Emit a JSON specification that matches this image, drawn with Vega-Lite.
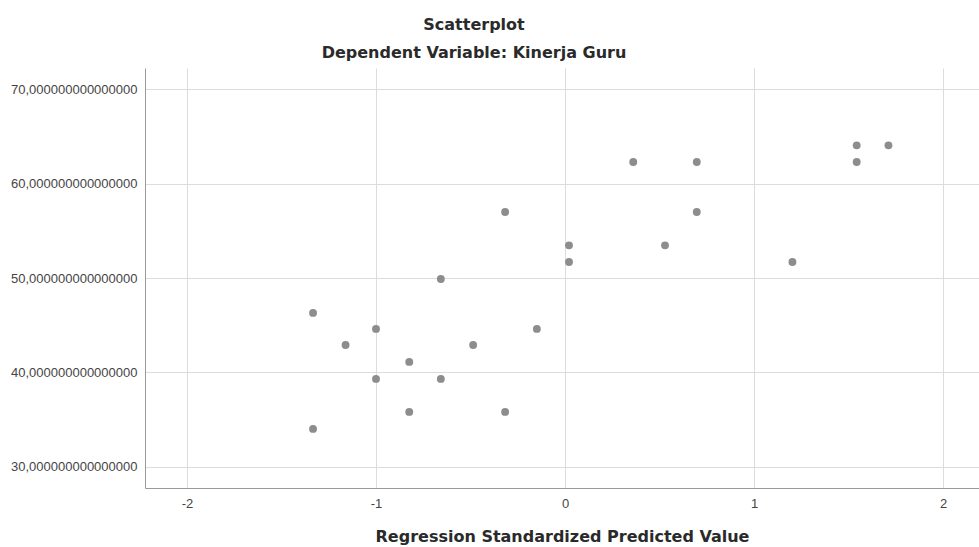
{
  "$schema": "https://vega.github.io/schema/vega-lite/v6.json",
  "autosize": "none",
  "width": 834,
  "height": 420,
  "padding": {"left": 145, "top": 68, "right": 0, "bottom": 59},
  "background": "white",
  "title": {
    "text": "Scatterplot",
    "subtitle": "Dependent Variable: Kinerja Guru",
    "anchor": "middle",
    "dx": -88,
    "offset": 7,
    "font": "DejaVu Sans",
    "fontSize": 16,
    "fontWeight": "bold",
    "color": "#2a2a2a",
    "subtitleFont": "DejaVu Sans",
    "subtitleFontSize": 16,
    "subtitleFontWeight": "bold",
    "subtitleColor": "#2a2a2a",
    "subtitlePadding": 12
  },
  "data": {
    "values": [
      {"pred": -1.333, "kinerja": 34.0},
      {"pred": -1.333, "kinerja": 46.3},
      {"pred": -1.161, "kinerja": 42.9},
      {"pred": -1.0, "kinerja": 44.6},
      {"pred": -1.0, "kinerja": 39.3},
      {"pred": -0.824, "kinerja": 41.1},
      {"pred": -0.824, "kinerja": 35.8},
      {"pred": -0.657, "kinerja": 49.9},
      {"pred": -0.657, "kinerja": 39.3},
      {"pred": -0.486, "kinerja": 42.9},
      {"pred": -0.317, "kinerja": 57.0},
      {"pred": -0.317, "kinerja": 35.8},
      {"pred": -0.149, "kinerja": 44.6},
      {"pred": 0.021, "kinerja": 53.46},
      {"pred": 0.021, "kinerja": 51.7},
      {"pred": 0.361, "kinerja": 62.3},
      {"pred": 0.529, "kinerja": 53.46},
      {"pred": 0.697, "kinerja": 62.3},
      {"pred": 0.697, "kinerja": 57.0},
      {"pred": 1.203, "kinerja": 51.7},
      {"pred": 1.543, "kinerja": 64.07},
      {"pred": 1.543, "kinerja": 62.3},
      {"pred": 1.711, "kinerja": 64.07}
    ]
  },
  "mark": {"type": "circle", "size": 62, "color": "#8d8d8d", "opacity": 1},
  "encoding": {
    "x": {
      "field": "pred",
      "type": "quantitative",
      "scale": {"domain": [-2.222, 2.19], "nice": false, "zero": false},
      "axis": {
        "values": [-2, -1, 0, 1, 2],
        "labelExpr": "'' + datum.value",
        "title": "Regression Standardized Predicted Value",
        "titleFont": "DejaVu Sans",
        "titleFontSize": 16,
        "titleFontWeight": "bold",
        "titleColor": "#2a2a2a",
        "titlePadding": 18,
        "labelFont": "Liberation Sans",
        "labelFontSize": 13,
        "labelColor": "#444444",
        "labelPadding": 9,
        "ticks": false,
        "domainColor": "#9a9a9a",
        "gridColor": "#dcdcdc",
        "grid": true
      }
    },
    "y": {
      "field": "kinerja",
      "type": "quantitative",
      "scale": {"domain": [27.73, 72.27], "nice": false, "zero": false},
      "axis": {
        "values": [30, 40, 50, 60, 70],
        "labelExpr": "replace(format(datum.value, '.15f'), '.', ',')",
        "title": null,
        "labelFont": "Liberation Sans",
        "labelFontSize": 13,
        "labelColor": "#444444",
        "labelPadding": 8,
        "ticks": false,
        "domainColor": "#9a9a9a",
        "gridColor": "#dcdcdc",
        "grid": true
      }
    }
  },
  "config": {
    "view": {"stroke": null}
  }
}
